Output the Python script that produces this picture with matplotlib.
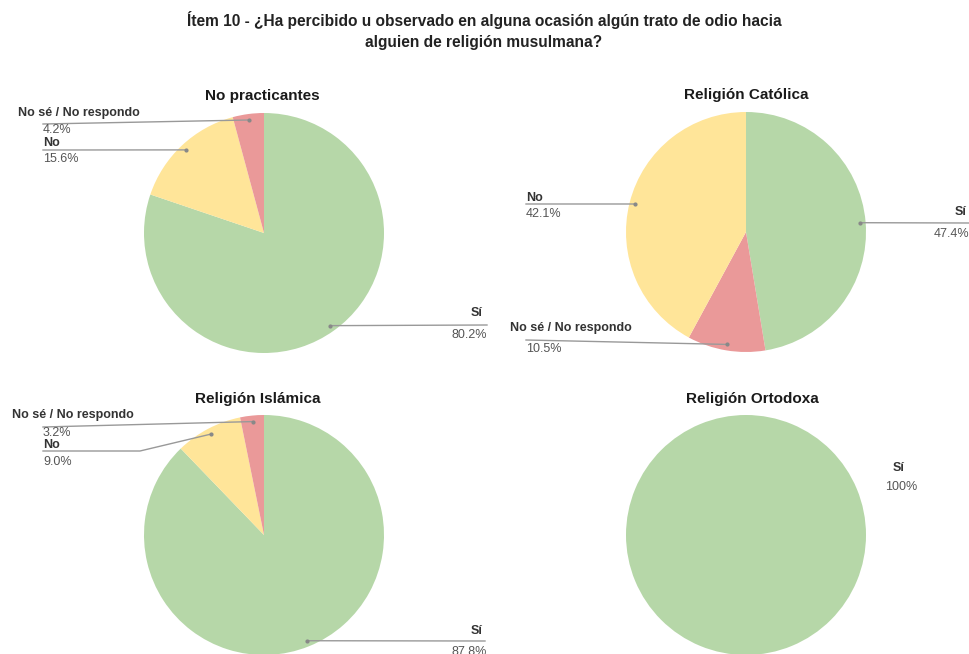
import matplotlib
matplotlib.use("Agg")
import matplotlib.pyplot as plt
import numpy as np
from matplotlib.lines import Line2D

W, H = 969, 654

# ---------------- data ----------------
title_lines = ["Ítem 10 - ¿Ha percibido u observado en alguna ocasión algún trato de odio hacia",
               "alguien de religión musulmana?"]

groups = ["No practicantes", "Religión Católica", "Religión Islámica", "Religión Ortodoxa"]

labels_np = ["Sí", "No", "No sé / No respondo"]
values_np = [80.2, 15.6, 4.2]

labels_cat = ["Sí", "No sé / No respondo", "No"]
values_cat = [47.4, 10.5, 42.1]

labels_isl = ["Sí", "No", "No sé / No respondo"]
values_isl = [87.8, 9.0, 3.2]

labels_ort = ["Sí"]
values_ort = [100]

pct_text = {
    "No practicantes": ["80.2%", "15.6%", "4.2%"],
    "Religión Católica": ["47.4%", "10.5%", "42.1%"],
    "Religión Islámica": ["87.8%", "9.0%", "3.2%"],
    "Religión Ortodoxa": ["100%"],
}

colors_map = {"Sí": "#b6d7a8", "No": "#ffe599", "No sé / No respondo": "#ea9999"}

# ---------------- layout (pixels) ----------------
centers = {
    "No practicantes": (264, 233),
    "Religión Católica": (746, 232),
    "Religión Islámica": (264, 535),
    "Religión Ortodoxa": (746, 535),
}
R = 120
title_pos = {
    "No practicantes": (262, 96),
    "Religión Católica": (746, 95),
    "Religión Islámica": (258, 399),
    "Religión Ortodoxa": (752, 399),
}
# per slice: (name_x, name_y, name_align, line_y, line_x0, elbow_x, pct_x, pct_y, pct_align)
label_layout = {
    "No practicantes": [
        (483, 313, "right", 325, 487, 487, 487, 335, "right"),
        (43, 143, "left", 150, 43, 43, 43, 159, "left"),
        (18, 113, "left", 124, 43, 43, 43, 130, "left"),
    ],
    "Religión Católica": [
        (967, 212, "right", 223, 969, 969, 969, 234, "right"),
        (510, 328, "left", 340, 526, 526, 526, 349, "left"),
        (526, 198, "left", 204, 526, 526, 526, 214, "left"),
    ],
    "Religión Islámica": [
        (483, 631, "right", 641, 485, 485, 487, 652, "right"),
        (43, 445, "left", 451, 43, 140, 43, 462, "left"),
        (12, 415, "left", 427, 43, 43, 43, 433, "left"),
    ],
}

fig = plt.figure(figsize=(W / 100, H / 100), dpi=100)
fig.patch.set_facecolor("white")

def fx(x):
    return x / W

def fy(y):
    return 1 - y / H

for txt, yy in zip(title_lines, (20, 43)):
    fig.text(fx(484), fy(yy), txt, ha="center", va="center", fontsize=11.2,
             fontweight="bold", family="Liberation Sans", color="#222222")

series = {
    "No practicantes": (labels_np, values_np),
    "Religión Católica": (labels_cat, values_cat),
    "Religión Islámica": (labels_isl, values_isl),
    "Religión Ortodoxa": (labels_ort, values_ort),
}

name_color = "#333333"
pct_color = "#555555"
line_color = "#999999"
FS = 9.0

for g in groups:
    labs, vals = series[g]
    cx, cy = centers[g]
    ax = fig.add_axes([fx(cx - R), fy(cy + R), 2 * R / W, 2 * R / H])
    wedges, _ = ax.pie(vals, colors=[colors_map[l] for l in labs], startangle=90,
                       counterclock=False, wedgeprops=dict(linewidth=0))
    ax.set_xlim(-1, 1)
    ax.set_ylim(-1, 1)
    ax.set_aspect("auto")
    ax.axis("off")
    tx, ty = title_pos[g]
    fig.text(fx(tx), fy(ty), g, ha="center", va="center", fontsize=11,
             fontweight="bold", family="Liberation Sans", color="#1a1a1a")

    if g == "Religión Ortodoxa":
        fig.text(fx(899), fy(468), labs[0], ha="center", va="center", fontsize=FS,
                 fontweight="bold", family="Liberation Sans", color=name_color)
        fig.text(fx(901), fy(487), pct_text[g][0], ha="center", va="center", fontsize=FS,
                 family="Liberation Sans", color=pct_color)
        continue

    for w, lab, pct, lay in zip(wedges, labs, pct_text[g], label_layout[g]):
        nx, ny, na, ly, lx0, ex, px_, py_, pa = lay
        mid = np.deg2rad((w.theta1 + w.theta2) / 2)
        dx, dy = 0.95 * np.cos(mid), 0.95 * np.sin(mid)
        ppx = cx + dx * R
        ppy = cy - dy * R
        xs = [lx0, ex, ppx]
        ys = [ly, ly, ppy]
        fig.add_artist(Line2D([fx(v) for v in xs], [fy(v) for v in ys],
                              transform=fig.transFigure, color=line_color, lw=1))
        fig.add_artist(Line2D([fx(ppx)], [fy(ppy)], transform=fig.transFigure,
                              marker="o", markersize=2, color="#888888", lw=0))
        fig.text(fx(nx), fy(ny), lab, ha=na, va="center", fontsize=FS,
                 fontweight="bold", family="Liberation Sans", color=name_color)
        fig.text(fx(px_), fy(py_), pct, ha=pa, va="center", fontsize=FS,
                 family="Liberation Sans", color=pct_color)

fig.savefig("out.png", dpi=100, facecolor="white")
